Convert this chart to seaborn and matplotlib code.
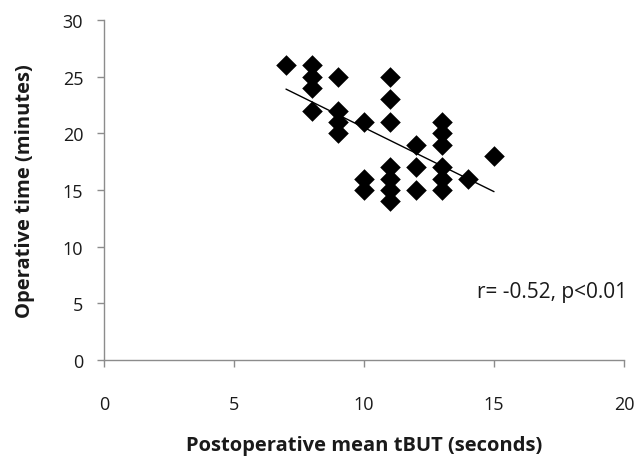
import matplotlib
matplotlib.use("Agg")
import matplotlib.pyplot as plt
import seaborn as sns
import numpy as np
import pandas as pd

tbut = [7, 8, 8, 8, 8, 9, 9, 9, 9, 10, 10, 10, 11, 11, 11, 11, 11, 11, 11,
        12, 12, 12, 13, 13, 13, 13, 13, 13, 14, 15]
op_time = [26, 26, 25, 24, 22, 25, 22, 21, 20, 21, 16, 15, 25, 23, 21, 17, 16, 15, 14,
           19, 17, 15, 21, 20, 19, 17, 16, 15, 16, 18]
x_ticks = [0, 5, 10, 15, 20]
y_ticks = [0, 5, 10, 15, 20, 25, 30]
annotation = "r= -0.52, p<0.01"

df = pd.DataFrame({"tbut": tbut, "op": op_time})

sns.set_style("white")
plt.rcParams["font.family"] = ["Open Sans", "DejaVu Sans"]

fig = plt.figure(figsize=(6.41, 4.64), dpi=100)
ax = fig.add_axes([104/641, 1-361/464, 520/641, 340/464])

sns.regplot(data=df, x="tbut", y="op", ax=ax, ci=None, truncate=True, marker="D",
            scatter_kws=dict(s=110, color="black", linewidths=0, alpha=1),
            line_kws=dict(color="black", lw=1.0))

ax.set_xlim(0, 20)
ax.set_ylim(0, 30)
ax.set_xticks(x_ticks)
ax.set_yticks(y_ticks)
ax.tick_params(axis="x", direction="out", length=5, width=1, color="#8c8c8c",
               pad=20, labelsize=13, labelcolor="#1a1a1a", bottom=True)
ax.tick_params(axis="y", direction="out", length=5, width=1, color="#8c8c8c",
               pad=10, labelsize=13, labelcolor="#1a1a1a", left=True)
for s in ["top", "right"]:
    ax.spines[s].set_visible(False)
for s in ["left", "bottom"]:
    ax.spines[s].set_color("#8c8c8c")
    ax.spines[s].set_linewidth(1)

ax.set_xlabel("Postoperative mean tBUT (seconds)", fontsize=14.5, fontweight="bold",
              color="#1a1a1a", labelpad=16)
ax.set_ylabel("Operative time (minutes)", fontsize=14.5, fontweight="bold",
              color="#1a1a1a", labelpad=20)

ax.text(14.35, 5.6, annotation, fontsize=15, color="#1a1a1a", va="baseline",
        clip_on=False)

fig.savefig("out.png", dpi=100)
